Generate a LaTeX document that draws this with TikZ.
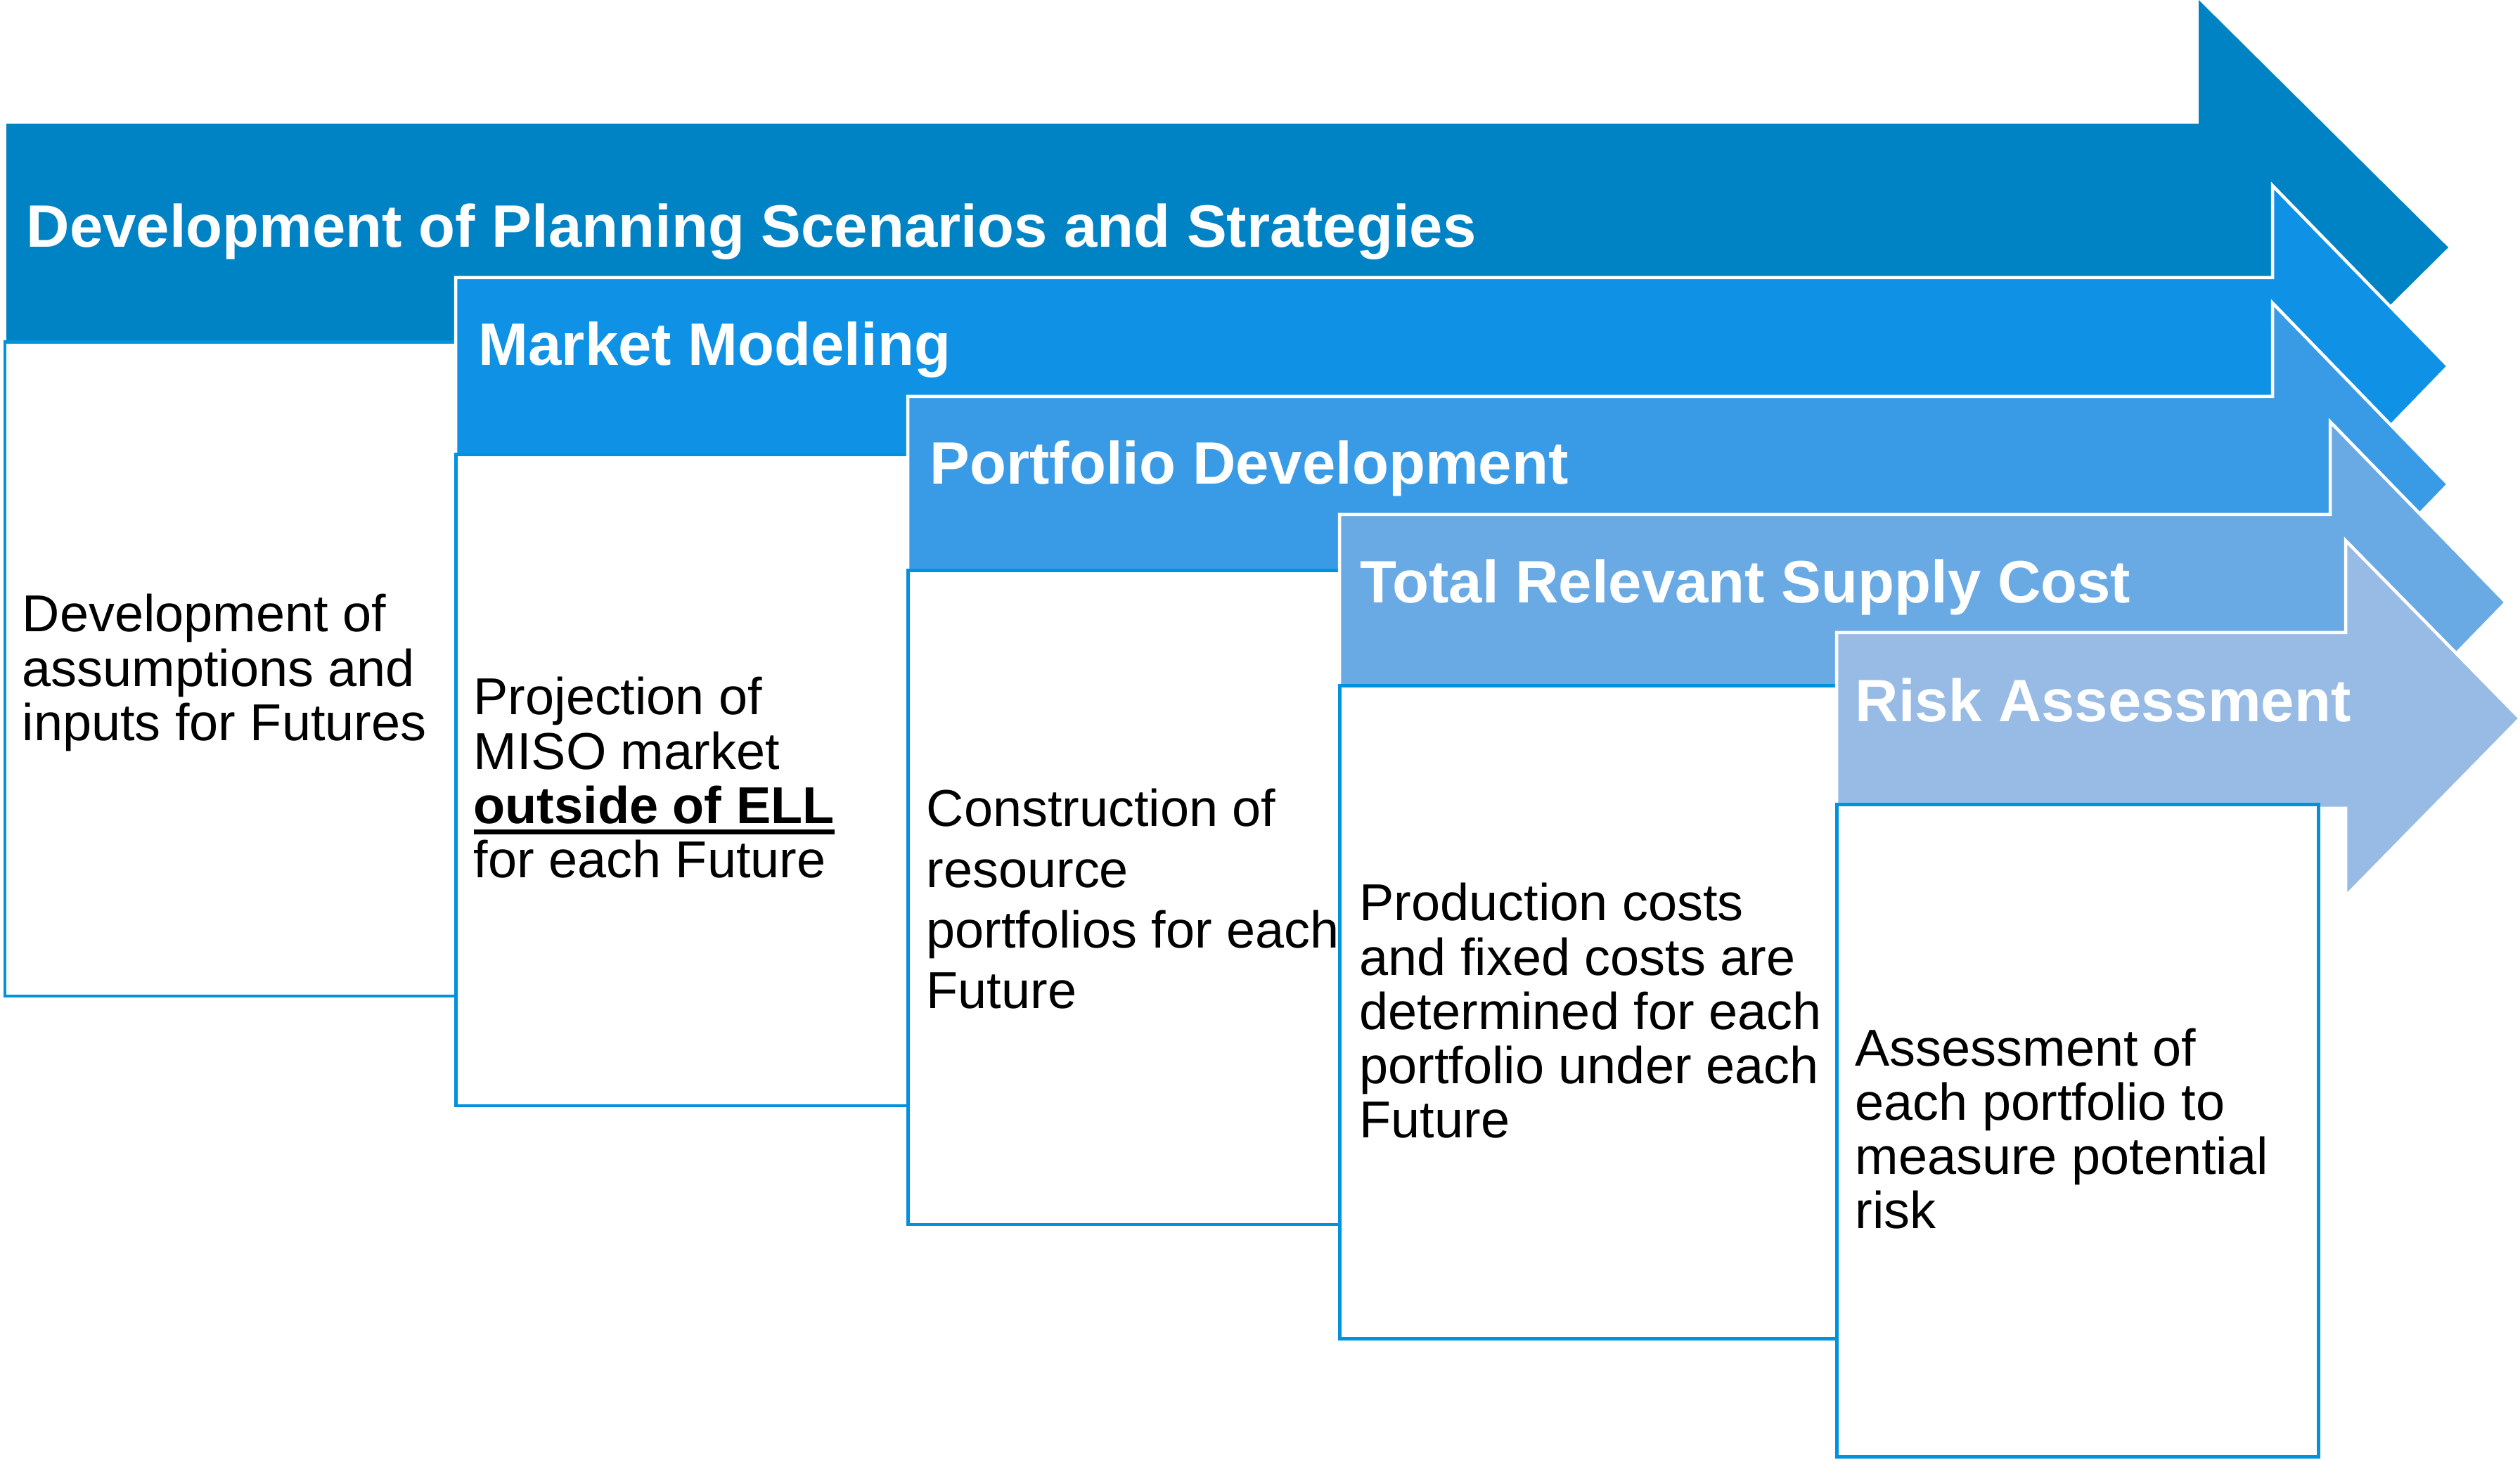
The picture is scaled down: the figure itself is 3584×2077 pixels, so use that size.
\documentclass[tikz,border=0pt]{standalone}
\usepackage{fontspec}
\setmainfont{Liberation Sans}
\definecolor{arrA}{RGB}{0,131,196}
\definecolor{arrB}{RGB}{15,146,229}
\definecolor{arrC}{RGB}{57,155,230}
\definecolor{arrD}{RGB}{106,170,228}
\definecolor{arrE}{RGB}{152,187,230}
\definecolor{boxblue}{RGB}{0,146,220}
\newsavebox\ulsave
\newcommand\ulbold[1]{\sbox\ulsave{\bfseries #1}\rlap{\raisebox{-4.55pt}{\rule{\wd\ulsave}{2pt}}}\usebox\ulsave}
\newcommand\linestack[2]{\vtop{\baselineskip=#1\relax\lineskiplimit=-100pt\lineskip=0pt #2}}
\begin{document}
\begin{tikzpicture}[x=0.01cm,y=-0.01cm,
  arrowshape/.style={draw=white,line width=1.28pt,line join=miter},
  stepbox/.style={fill=white,draw=boxblue,line width=1.42pt},
  headtext/.style={text=white,font=\fontsize{24.2}{29}\selectfont\bfseries,anchor=base west,inner sep=0pt},
  bodytext/.style={text=black,font=\fontsize{21}{22}\selectfont,anchor=base west,inner sep=0pt}]
\useasboundingbox (0,0) rectangle (3584,2077);

% Step 1
\fill[arrA] (9,176) -- (3127,176) -- (3127,0) -- (3482,352) -- (3127,704) -- (3127,528) -- (9,528) -- cycle;
\node[headtext] (h1) at (37,352) {Development of Planning Scenarios and Strategies};
\path[stepbox] (7,487) rectangle (650,1417);
\node[bodytext] (b1) at (31,899) {\linestack{21.91pt}{\hbox{Development of}\hbox{assumptions and}\hbox{inputs for Futures}}};

% Step 2
\path[arrowshape,fill=arrB] (648,395) -- (3232,395) -- (3232,264) -- (3482,521) -- (3232,779) -- (3232,647) -- (648,647) -- cycle;
\node[headtext] (h2) at (680,520) {Market Modeling};
\path[stepbox] (648,647) rectangle (1291,1573);
\node[bodytext] (b2) at (673,1017) {\linestack{21.91pt}{\hbox{Projection of}\hbox{MISO market}\hbox{\ulbold{outside of ELL}}\hbox{for each Future}}};

% Step 3
\path[arrowshape,fill=arrC] (1291,564) -- (3232,564) -- (3232,431) -- (3482,689) -- (3232,947) -- (3232,814) -- (1291,814) -- cycle;
\node[headtext] (h3) at (1322,689) {Portfolio Development};
\path[stepbox] (1291,812) rectangle (1905,1742);
\node[bodytext] (b3) at (1317,1176) {\linestack{24.47pt}{\hbox{Construction of}\hbox{resource}\hbox{portfolios for each}\hbox{Future}}};

% Step 4
\path[arrowshape,fill=arrD] (1905,732) -- (3314,732) -- (3314,600) -- (3564,857) -- (3314,1114) -- (3314,978) -- (1905,978) -- cycle;
\node[headtext] (h4) at (1934,858) {Total Relevant Supply Cost};
\path[stepbox] (1905,976) rectangle (2612,1904);
\node[bodytext] (b4) at (1933,1310) {\linestack{21.91pt}{\hbox{Production costs}\hbox{and fixed costs are}\hbox{determined for each}\hbox{portfolio under each}\hbox{Future}}};

% Step 5
\path[arrowshape,fill=arrE] (2612,900) -- (3336,900) -- (3336,769) -- (3584,1022) -- (3336,1275) -- (3336,1150) -- (2612,1150) -- cycle;
\node[headtext] (h5) at (2638,1027) {Risk Assessment};
\path[stepbox] (2612,1145) rectangle (3297,2072);
\node[bodytext] (b5) at (2638,1516) {\linestack{21.91pt}{\hbox{Assessment of}\hbox{each portfolio to}\hbox{measure potential}\hbox{risk}}};
\end{tikzpicture}
\end{document}
